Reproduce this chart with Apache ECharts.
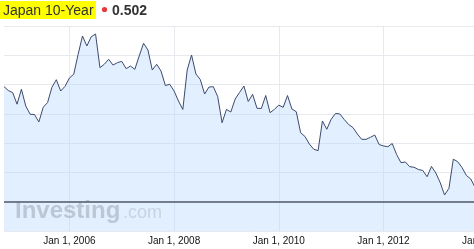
<!DOCTYPE html>
<html>
<head>
<meta charset="utf-8">
<script src="https://cdn.jsdelivr.net/npm/echarts@6/dist/echarts.min.js"></script>
<style>
html,body{margin:0;padding:0;background:#fff;overflow:hidden;width:474px;height:249px;}
#chart{position:absolute;left:-40px;top:0;width:600px;height:249px;}
</style>
</head>
<body>
<div id="chart"></div>
<script>
// Monthly observations starting October 2004
const startYear = 2004;
const startMonth = 10;
const yields = [
  1.480, 1.439, 1.417, 1.299, 1.452, 1.280, 1.196, 1.193, 1.117, 1.268,
  1.316, 1.473, 1.550, 1.434, 1.482, 1.567, 1.606, 1.810, 1.998, 1.895,
  1.990, 2.018, 1.673, 1.708, 1.759, 1.700, 1.724, 1.738, 1.663, 1.690,
  1.656, 1.793, 1.923, 1.854, 1.649, 1.708, 1.639, 1.490, 1.503, 1.434,
  1.332, 1.245, 1.649, 1.803, 1.608, 1.552, 1.403, 1.475, 1.478, 1.376,
  1.109, 1.245, 1.219, 1.352, 1.419, 1.485, 1.327, 1.400, 1.257, 1.255,
  1.388, 1.212, 1.247, 1.289, 1.267, 1.388, 1.250, 1.222, 1.007, 0.968,
  0.891, 0.838, 0.823, 1.127, 1.042, 1.144, 1.204, 1.199, 1.142, 1.091,
  1.060, 0.994, 0.939, 0.939, 0.960, 0.983, 0.886, 0.871, 0.864, 0.896,
  0.784, 0.700, 0.707, 0.659, 0.653, 0.630, 0.620, 0.556, 0.661, 0.594,
  0.495, 0.369, 0.437, 0.736, 0.710, 0.650, 0.569, 0.533, 0.446
];
const tickYears = [2006, 2008, 2010, 2012, 2014];
const titleText = 'Japan 10-Year';
const lastPrice = '0.502';
const refLevel = 0.3;

// month -> decimal year
const points = yields.map((v, i) => {
  const m = startMonth - 1 + i;
  return [startYear + m / 12, v];
});

const OX = 40; // canvas offset (canvas starts 40px left of the page)
const chart = echarts.init(document.getElementById('chart'), null, {renderer: 'canvas'});
const font = '"Liberation Sans", Arial, sans-serif';

chart.setOption({
  animation: false,
  backgroundColor: '#fff',
  grid: {left: 4.7, right: 19.45, top: 26, bottom: 18, containLabel: false},
  xAxis: {
    type: 'value',
    min: 2004, max: 2015, interval: 2,
    axisLine: {show: false},
    axisTick: {show: false},
    axisLabel: {
      show: true, color: '#111', fontSize: 10, fontFamily: font, margin: 5,
      formatter: v => tickYears.indexOf(v) >= 0 ? 'Jan 1, ' + v : ''
    },
    splitLine: {show: true, lineStyle: {color: '#e8e9ef', width: 1}}
  },
  yAxis: {
    type: 'value',
    min: 0, max: 2.1, interval: 0.3,
    axisLine: {show: false},
    axisTick: {show: false},
    axisLabel: {show: false},
    splitLine: {show: true, lineStyle: {color: '#e8e9ef', width: 1}}
  },
  series: [{
    type: 'line',
    data: points,
    symbol: 'none',
    lineStyle: {color: '#3d4a6e', width: 1},
    areaStyle: {color: 'rgba(187,218,252,0.6)', origin: 'start'},
    markLine: {
      silent: true,
      symbol: ['none', 'none'],
      label: {show: false},
      lineStyle: {color: '#505866', width: 1.5, type: 'solid'},
      data: [{yAxis: refLevel}]
    }
  }],
  graphic: [
    {type: 'rect', shape: {x: 0, y: 20, width: OX + 4, height: 215}, style: {fill: '#fff'}, z: 100},
    {type: 'rect', shape: {x: OX, y: 1, width: 96, height: 18}, style: {fill: '#ffff00'}, z: 100},
    {type: 'text', x: OX + 3, y: 11.2, z: 101,
      style: {text: titleText, font: '14px ' + font, fill: '#333', textVerticalAlign: 'middle'}},
    {type: 'circle', shape: {cx: OX + 104.5, cy: 9.5, r: 2.6}, style: {fill: '#e8393a'}, z: 101},
    {type: 'text', x: OX + 112, y: 11.2, z: 101,
      style: {text: lastPrice, font: 'bold 14px ' + font, fill: '#333', textVerticalAlign: 'middle'}},
    {type: 'text', x: OX + 15, y: 211, z: 50,
      style: {text: 'Investing', font: 'bold 24px ' + font, fill: 'rgba(110,115,125,0.32)', textVerticalAlign: 'middle'}},
    {type: 'text', x: OX + 123, y: 212.8, z: 50,
      style: {text: '.com', font: '18px ' + font, fill: 'rgba(110,115,125,0.22)', textVerticalAlign: 'middle'}}
  ]
});
</script>
</body>
</html>
